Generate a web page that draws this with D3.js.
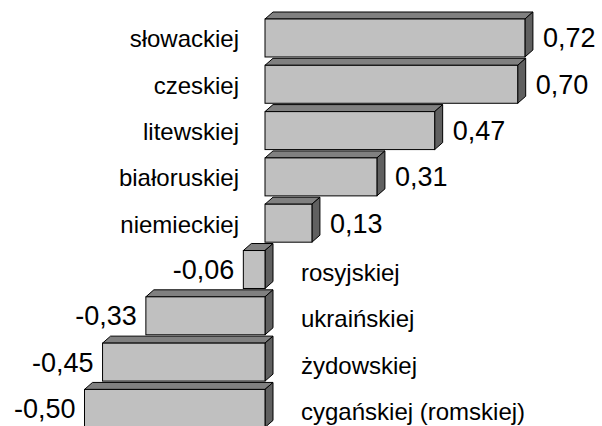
<!DOCTYPE html>
<html>
<head>
<meta charset="utf-8">
<script src="https://cdn.jsdelivr.net/npm/d3@7"></script>
<style>
body { margin:0; background:#fff; }
text { font-family: "Liberation Sans", Arial, sans-serif; fill:#000; }
</style>
</head>
<body>
<svg></svg>
<script>
var categories = ["słowackiej","czeskiej","litewskiej","białoruskiej","niemieckiej","rosyjskiej","ukraińskiej","żydowskiej","cygańskiej (romskiej)"]
var values = [0.72,0.70,0.47,0.31,0.13,-0.06,-0.33,-0.45,-0.50]
var valueLabels = ["0,72","0,70","0,47","0,31","0,13","-0,06","-0,33","-0,45","-0,50"]

var screen = {width:602,height:426}
var depth = {dx:8,dy:-7}

var svg = d3.select("svg")
    .attr("width",screen.width)
    .attr("height",screen.height)

var xScale = d3.scaleLinear()
                .domain([0,1])
                .range([265,626])

var yScale = d3.scaleBand()
                .domain(categories)
                .range([19,427.4])
                .paddingInner(0.18)
                .paddingOuter(0)

var rows = categories.map(function(c,i){ return {cat:c,val:values[i],label:valueLabels[i]} })

var pts = function(a){ return a.map(function(p){return p.join(",")}).join(" ") }

svg.append("g").attr("id","bars")
    .selectAll("g")
    .data(rows)
    .enter()
    .append("g")
    .each(function(d)
    {
        var g = d3.select(this)
        var x0 = xScale(Math.min(0,d.val))
        var x1 = xScale(Math.max(0,d.val))
        var y = yScale(d.cat)
        var h = yScale.bandwidth()
        // top face
        g.append("polygon")
            .attr("points",pts([[x0,y],[x0+depth.dx,y+depth.dy],[x1+depth.dx,y+depth.dy],[x1,y]]))
            .attr("fill","#808080")
            .attr("stroke","#000")
        // side face
        g.append("polygon")
            .attr("points",pts([[x1,y],[x1+depth.dx,y+depth.dy],[x1+depth.dx,y+depth.dy+h],[x1,y+h]]))
            .attr("fill","#606060")
            .attr("stroke","#000")
        // front
        g.append("rect")
            .attr("x",x0)
            .attr("y",y)
            .attr("width",x1-x0)
            .attr("height",h)
            .attr("fill","#c0c0c0")
            .attr("stroke","#000")
    })

// category labels, left of zero for positive bars, right of it for negative
svg.append("g")
    .selectAll("text")
    .data(rows)
    .enter()
    .append("text")
    .attr("x",function(d){ return d.val>=0 ? 239 : 301 })
    .attr("y",function(d){ return yScale(d.cat)+yScale.bandwidth()/2 + (d.val>=0 ? 1 : 3) })
    .attr("dy","0.35em")
    .attr("text-anchor",function(d){ return d.val>=0 ? "end" : "start" })
    .style("font-size","24px")
    .text(function(d){ return d.cat })

// value labels
svg.append("g")
    .selectAll("text")
    .data(rows)
    .enter()
    .append("text")
    .attr("x",function(d){ return d.val>=0 ? xScale(d.val)+depth.dx+10 : xScale(d.val)-9 })
    .attr("y",function(d){ return yScale(d.cat)+yScale.bandwidth()/2 })
    .attr("dy","0.35em")
    .attr("text-anchor",function(d){ return d.val>=0 ? "start" : "end" })
    .style("font-size","27px")
    .text(function(d){ return d.label })
</script>
</body>
</html>
